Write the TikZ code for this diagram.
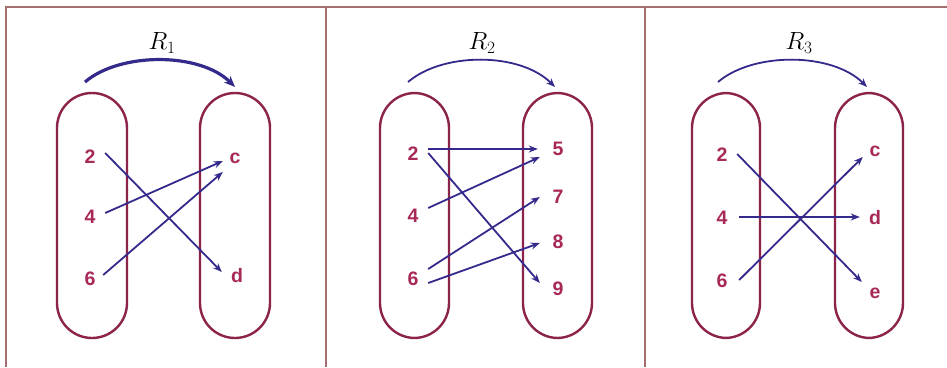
\documentclass[tikz,border=0pt]{standalone}
\usepackage{fontspec}
\newfontfamily\lblfont{Liberation Sans}
\usetikzlibrary{arrows.meta}
\definecolor{setred}{RGB}{140,35,75}
\definecolor{lblred}{RGB}{168,40,88}
\definecolor{relblue}{RGB}{52,42,140}
\definecolor{framebrown}{RGB}{165,110,110}
\begin{document}
\begin{tikzpicture}[
  x=1pt, y=-1pt,
  setbox/.style={draw=setred, line width=2.4pt, minimum width=70pt, minimum height=245pt, rounded corners=35pt, inner sep=0pt},
  elem/.style={text=lblred, font=\lblfont\bfseries\fontsize{19.5}{19.5}\selectfont, inner sep=0pt, text height=14pt, text depth=0pt, minimum width=30pt},
  relem/.style={elem, minimum width=20pt},
  pair/.style={draw=relblue, line width=1.8pt, -{Stealth[length=9pt,width=7pt]}},
  relarc/.style={draw=relblue, line width=1.8pt, -{Stealth[length=9pt,width=7pt]}},
  rname/.style={font=\fontsize{24}{24}\selectfont, inner sep=0pt},
  frame/.style={draw=framebrown, line width=1.6pt},
]
\useasboundingbox[fill=white] (0,0) rectangle (947,367);
\draw[frame] (6,367) -- (6,7) -- (947,7);
\draw[frame] (326,7) -- (326,367);
\draw[frame] (645,7) -- (645,367);

\node[setbox] (A1) at (92,215.5) {};
\node[setbox] (B1) at (235,215.5) {};
\node[elem] (a2) at (90,156) {2};
\node[elem] (a4) at (90,216) {4};
\node[elem] (a6) at (90,278) {6};
\node[relem] (bc) at (235,156) {c};
\node[relem] (bd) at (237,275) {d};
\coordinate (r1s) at (85,82);
\coordinate (r1e) at (235,87);
\node[rname] (R1) at (162,43) {$R_1$};
\draw[relarc, line width=3.2pt, -{Stealth[length=11pt,width=9pt]}] (r1s) .. controls (120,52) and (200,52) .. (r1e);
\draw[pair] ([yshift=3pt]a2.east) -- ([xshift=-5pt,yshift=3pt]bd.west);
\draw[pair] ([yshift=3pt]a4.east) -- ([xshift=-2pt,yshift=-5pt]bc.west);
\draw[pair] ([xshift=-2pt,yshift=3pt]a6.east) -- ([xshift=-2pt,yshift=-16pt]bc.west);

\node[setbox, minimum width=69pt] (A2) at (414.5,215.5) {};
\node[setbox, minimum width=69pt] (B2) at (557.5,215.5) {};
\node[elem] (p2) at (413,153) {2};
\node[elem] (p4) at (413,215) {4};
\node[elem] (p6) at (413,278) {6};
\node[relem] (q5) at (558,148) {5};
\node[relem] (q7) at (558,196) {7};
\node[relem] (q8) at (558,241) {8};
\node[relem] (q9) at (558,288) {9};
\coordinate (r2s) at (408,82);
\coordinate (r2e) at (555,87);
\node[rname] (R2) at (482,43) {$R_2$};
\draw[relarc] (r2s) .. controls (443,52) and (520,52) .. (r2e);
\draw[pair] ([yshift=4pt]p2.east) -- ([xshift=-10pt,yshift=-1pt]q5.west);
\draw[pair] (p2.east) -- ([xshift=-8pt,yshift=5pt]q9.west);
\draw[pair] ([yshift=7pt]p4.east) -- ([xshift=-8pt,yshift=-9pt]q5.west);
\draw[pair] ([yshift=9pt]p6.east) -- ([xshift=-8pt,yshift=-1pt]q7.west);
\draw[pair] ([yshift=-5pt]p6.east) -- ([xshift=-8pt,yshift=-2pt]q8.west);

\node[setbox, minimum width=68pt] (A3) at (726,215.5) {};
\node[setbox, minimum width=68pt] (B3) at (869,215.5) {};
\node[elem] (s2) at (722,154) {2};
\node[elem] (s4) at (722,217) {4};
\node[elem] (s6) at (722,280) {6};
\node[relem] (tc) at (875,149) {c};
\node[relem] (td) at (875,217) {d};
\node[relem] (te) at (875,291) {e};
\coordinate (r3s) at (718,82);
\coordinate (r3e) at (867,87);
\node[rname] (R3) at (799,43) {$R_3$};
\draw[relarc] (r3s) .. controls (753,52) and (832,52) .. (r3e);
\draw[pair] (s2.east) -- ([xshift=-3pt,yshift=9pt]te.west);
\draw[pair] ([xshift=2pt]s4.east) -- ([xshift=-5pt]td.west);
\draw[pair] ([xshift=2pt]s6.east) -- ([xshift=-2pt,yshift=-8pt]tc.west);
\end{tikzpicture}
\end{document}
